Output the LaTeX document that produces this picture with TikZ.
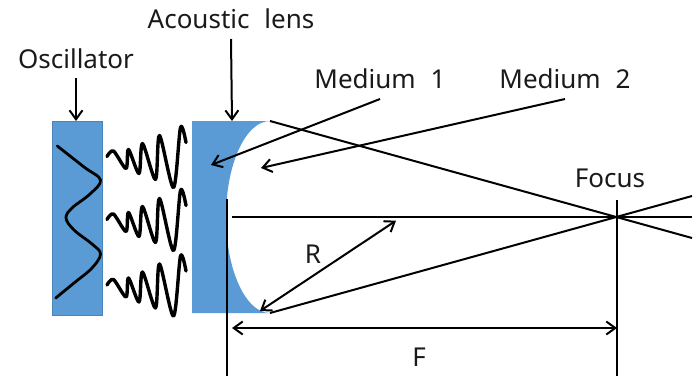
\documentclass[tikz,border=0pt]{standalone}
\usepackage{fontspec}
\setmainfont{Noto Sans}[WordSpace=2.2]
\usetikzlibrary{arrows.meta}
\definecolor{lensblue}{HTML}{5B9BD5}
\definecolor{edgeblue}{HTML}{4A84B8}
\definecolor{textdark}{HTML}{1A1A1A}
\tikzset{
  lbl/.style={inner sep=0pt,font=\fontsize{26}{30}\selectfont,text=textdark},
  barb/.tip={Straight Barb[length=9pt,width=13pt,line width=2pt]},
  arrowline/.style={line width=2pt,-barb},
  dblline/.style={line width=2pt,barb-barb},
  thinline/.style={line width=1.5pt},
  ray/.style={line width=2pt},
  wavy/.style={line width=3.4pt,line join=round,line cap=round},
  blueblock/.style={fill=lensblue},
  pics/burst/.style={code={
    \draw[wavy] plot[smooth,tension=0.5] coordinates {(0,0) (6.5,-5.5) (19,12) (21.5,-7) (32,17) (35.5,-13) (48.5,23) (52.5,-21) (66.5,31) (73.5,-29) (79,-14)};
  }}
}
\begin{document}
\begin{tikzpicture}[x=1pt,y=-1pt]
\useasboundingbox (0,0) rectangle (700,376);
% blocks
\node[blueblock,draw=edgeblue,line width=0.6pt,minimum width=50pt,minimum height=194pt,inner sep=0pt,anchor=north west] (osc) at (51.7,121) {};
\fill[blueblock] (192,121) -- (270,121) arc[start angle=270,end angle=90,x radius=44,y radius=96] -- (192,313) -- cycle;
% named points
\coordinate (lensTop) at (232,121);
\coordinate (rayTop) at (270,121);
\coordinate (rayBot) at (270,313);
\coordinate (rayTopEnd) at (692,238);
\coordinate (rayBotEnd) at (692,196);
\coordinate (axisL) at (231.5,217);
\coordinate (axisR) at (692,217);
\coordinate (vLT) at (227,199);
\coordinate (vLB) at (227,376);
\coordinate (vRT) at (617,200);
\coordinate (vRB) at (617,376);
\coordinate (fL) at (232,328);
\coordinate (fR) at (617,328);
\coordinate (inLens) at (211,165);
\coordinate (inMed) at (261,168);
\coordinate (rA) at (396,220.7);
\coordinate (rB) at (260,311);
% oscillator wave
\draw[wavy,line width=2.8pt] plot[smooth,tension=0.6] coordinates {(57.3,146) (84,167) (100.5,180) (90,194) (72,208) (66,218) (74,230) (92,244) (100.5,254) (92,268) (74,283) (55.7,298)};
% bursts
\pic at (107,156.5) {burst};
\pic at (107,219.5) {burst};
\pic at (107,285) {burst};
% labels
\node[lbl] (oscL) at (76,59) {Oscillator};
\node[lbl] (acL) at (231,19) {Acoustic lens};
\node[lbl] (m1) at (380,79) {Medium 1};
\node[lbl] (m2) at (565,79) {Medium 2};
\node[lbl] (foc) at (610,178) {Focus};
\node[lbl] (rL) at (313,254) {R};
\node[lbl] (fLab) at (419,357) {F};
% arrows
\draw[arrowline] (76,78) -- (osc.north -| 76,0);
\draw[arrowline] (acL.south |- 0,39) -- (lensTop);
\draw[arrowline] (m1.south |- 0,99) -- (inLens);
\draw[arrowline] (m2.south |- 0,99) -- (inMed);
\draw[ray] (rayTop) -- (rayTopEnd);
\draw[ray] (rayBot) -- (rayBotEnd);
\draw[ray] (axisL) -- (axisR);
\draw[thinline] (vLT) -- (vLB);
\draw[thinline] (vRT) -- (vRB);
\draw[dblline] (rA) -- (rB);
\draw[dblline] (fL) -- (fR);
\end{tikzpicture}
\end{document}
